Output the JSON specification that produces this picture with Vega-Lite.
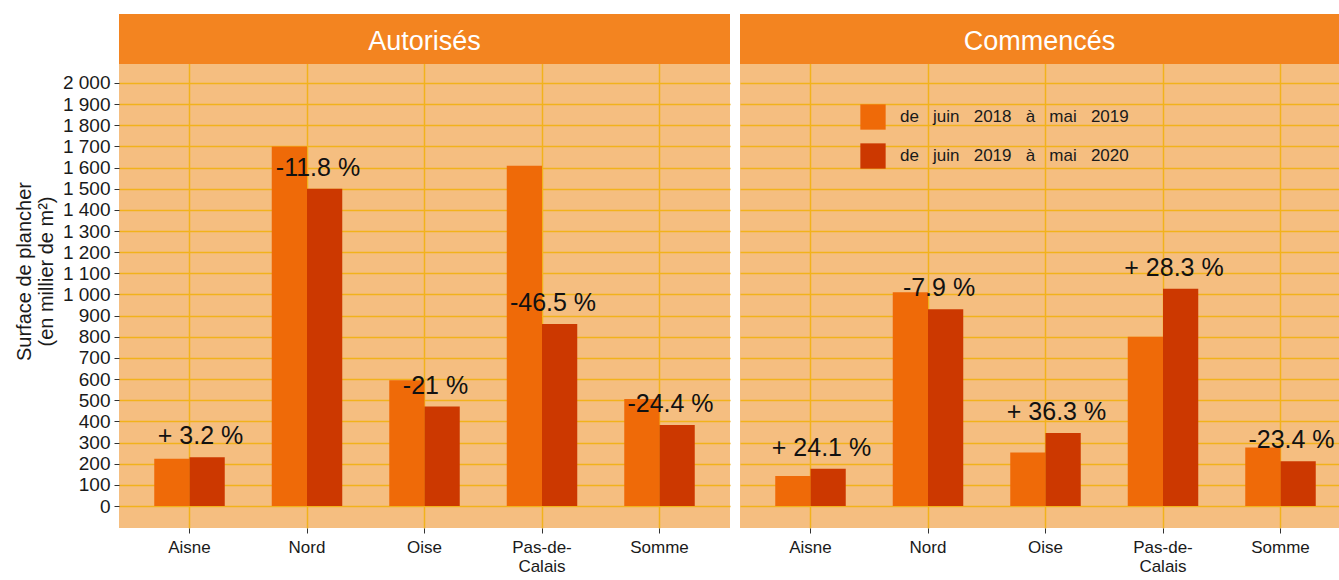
{
  "$schema": "https://vega.github.io/schema/vega-lite/v6.json",
  "background": "white",
  "padding": {"left": 14, "top": 14, "right": 0, "bottom": 0},
  "datasets": {
    "bars": [
      {"panel": "Autorisés", "dept": "Aisne", "periode": "de juin 2018 à mai 2019", "value": 223},
      {"panel": "Autorisés", "dept": "Aisne", "periode": "de juin 2019 à mai 2020", "value": 230, "label": "+ 3.2 %"},
      {"panel": "Autorisés", "dept": "Nord", "periode": "de juin 2018 à mai 2019", "value": 1700},
      {"panel": "Autorisés", "dept": "Nord", "periode": "de juin 2019 à mai 2020", "value": 1500, "label": "-11.8 %"},
      {"panel": "Autorisés", "dept": "Oise", "periode": "de juin 2018 à mai 2019", "value": 595},
      {"panel": "Autorisés", "dept": "Oise", "periode": "de juin 2019 à mai 2020", "value": 470, "label": "-21 %"},
      {"panel": "Autorisés", "dept": "Pas-de-Calais", "periode": "de juin 2018 à mai 2019", "value": 1608},
      {"panel": "Autorisés", "dept": "Pas-de-Calais", "periode": "de juin 2019 à mai 2020", "value": 860, "label": "-46.5 %"},
      {"panel": "Autorisés", "dept": "Somme", "periode": "de juin 2018 à mai 2019", "value": 506},
      {"panel": "Autorisés", "dept": "Somme", "periode": "de juin 2019 à mai 2020", "value": 383, "label": "-24.4 %"},
      {"panel": "Commencés", "dept": "Aisne", "periode": "de juin 2018 à mai 2019", "value": 142},
      {"panel": "Commencés", "dept": "Aisne", "periode": "de juin 2019 à mai 2020", "value": 176, "label": "+ 24.1 %"},
      {"panel": "Commencés", "dept": "Nord", "periode": "de juin 2018 à mai 2019", "value": 1010},
      {"panel": "Commencés", "dept": "Nord", "periode": "de juin 2019 à mai 2020", "value": 930, "label": "-7.9 %"},
      {"panel": "Commencés", "dept": "Oise", "periode": "de juin 2018 à mai 2019", "value": 253},
      {"panel": "Commencés", "dept": "Oise", "periode": "de juin 2019 à mai 2020", "value": 345, "label": "+ 36.3 %"},
      {"panel": "Commencés", "dept": "Pas-de-Calais", "periode": "de juin 2018 à mai 2019", "value": 800},
      {"panel": "Commencés", "dept": "Pas-de-Calais", "periode": "de juin 2019 à mai 2020", "value": 1027, "label": "+ 28.3 %"},
      {"panel": "Commencés", "dept": "Somme", "periode": "de juin 2018 à mai 2019", "value": 276},
      {"panel": "Commencés", "dept": "Somme", "periode": "de juin 2019 à mai 2020", "value": 212, "label": "-23.4 %"}
    ]
  },
  "config": {
    "font": "Liberation Sans",
    "view": {"fill": "#F5BE80", "stroke": null},
    "concat": {"spacing": 10},
    "axis": {
      "gridColor": "#F2B21C",
      "gridWidth": 1.5,
      "domain": false,
      "tickColor": "#333333",
      "tickSize": 5,
      "labelColor": "#1a1a1a",
      "labelFont": "Liberation Sans",
      "titleFont": "Liberation Sans",
      "titleFontWeight": "normal",
      "titleColor": "#1a1a1a"
    },
    "legend": {
      "orient": "none",
      "legendX": 741,
      "legendY": 90,
      "title": null,
      "symbolType": "square",
      "symbolSize": 640,
      "symbolStrokeWidth": 0,
      "symbolOpacity": 1,
      "labelFontSize": 17,
      "labelFont": "Liberation Sans",
      "labelColor": "#1a1a1a",
      "labelLimit": 0,
      "rowPadding": 13,
      "labelOffset": 14
    }
  },
  "hconcat": [
    {
      "width": 611,
      "height": 514,
      "layer": [
        {
          "data": {"name": "bars"},
          "transform": [{"filter": "datum.panel == 'Autorisés'"}],
          "mark": {"type": "bar"},
          "encoding": {
            "x": {
              "field": "dept", "type": "nominal",
              "scale": {"paddingInner": 0.4, "paddingOuter": 0.3},
              "axis": {
                "title": null, "labelAngle": 0, "labelFontSize": 17, "labelPadding": 6,
                "bandPosition": 0.5, "grid": true,
                "labelExpr": "datum.label == 'Pas-de-Calais' ? ['Pas-de-', 'Calais'] : datum.label"
              }
            },
            "xOffset": {"field": "periode", "type": "nominal"},
            "y": {
              "field": "value", "type": "quantitative",
              "scale": {"domain": [-104, 2326], "nice": false, "zero": false},
              "axis": {
                "title": ["Surface de plancher", "(en millier de m²)"],
                "titleFontSize": 20, "titlePadding": 6, "titleLineHeight": 22,
                "labelFontSize": 19, "labelPadding": 4, "labelOverlap": false,
                "values": [0, 100, 200, 300, 400, 500, 600, 700, 800, 900, 1000, 1100, 1200, 1300, 1400, 1500, 1600, 1700, 1800, 1900, 2000],
                "labelExpr": "replace(format(datum.value, ','), ',', ' ')"
              }
            },
            "color": {
              "field": "periode", "type": "nominal",
              "scale": {"range": ["#EF6A08", "#CC3800"]},
              "legend": {"labelExpr": "replace(datum.label, / /g, ' \u00a0\u00a0')"}
            }
          }
        },
        {
          "data": {"name": "bars"},
          "transform": [{"filter": "datum.panel == 'Autorisés' && isValid(datum.label)"}],
          "mark": {"type": "text", "fontSize": 25, "color": "#111111", "dy": -21, "dx": 11, "baseline": "middle"},
          "encoding": {
            "x": {"field": "dept", "type": "nominal"},
            "y": {
              "field": "value", "type": "quantitative",
              "axis": {
                "title": ["Surface de plancher", "(en millier de m²)"],
                "titleFontSize": 20, "titlePadding": 6, "titleLineHeight": 22,
                "labelFontSize": 19, "labelPadding": 4, "labelOverlap": false,
                "values": [0, 100, 200, 300, 400, 500, 600, 700, 800, 900, 1000, 1100, 1200, 1300, 1400, 1500, 1600, 1700, 1800, 1900, 2000],
                "labelExpr": "replace(format(datum.value, ','), ',', ' ')"
              }
            },
            "text": {"field": "label"}
          }
        },
        {
          "data": {"values": [{"t": "Autorisés"}]},
          "mark": {"type": "rect", "color": "#F38420"},
          "encoding": {
            "y": {
              "datum": 2090,
              "axis": {
                "title": ["Surface de plancher", "(en millier de m²)"],
                "titleFontSize": 20, "titlePadding": 6, "titleLineHeight": 22,
                "labelFontSize": 19, "labelPadding": 4, "labelOverlap": false,
                "values": [0, 100, 200, 300, 400, 500, 600, 700, 800, 900, 1000, 1100, 1200, 1300, 1400, 1500, 1600, 1700, 1800, 1900, 2000],
                "labelExpr": "replace(format(datum.value, ','), ',', ' ')"
              }
            },
            "y2": {"datum": 2326}
          }
        },
        {
          "data": {"values": [{"t": "Autorisés"}]},
          "mark": {"type": "text", "color": "white", "fontSize": 27, "baseline": "middle"},
          "encoding": {
            "y": {
              "datum": 2194,
              "axis": {
                "title": ["Surface de plancher", "(en millier de m²)"],
                "titleFontSize": 20, "titlePadding": 6, "titleLineHeight": 22,
                "labelFontSize": 19, "labelPadding": 4, "labelOverlap": false,
                "values": [0, 100, 200, 300, 400, 500, 600, 700, 800, 900, 1000, 1100, 1200, 1300, 1400, 1500, 1600, 1700, 1800, 1900, 2000],
                "labelExpr": "replace(format(datum.value, ','), ',', ' ')"
              }
            },
            "text": {"field": "t"}
          }
        }
      ]
    },
    {
      "width": 599,
      "height": 514,
      "layer": [
        {
          "data": {"name": "bars"},
          "transform": [{"filter": "datum.panel == 'Commencés'"}],
          "mark": {"type": "bar"},
          "encoding": {
            "x": {
              "field": "dept", "type": "nominal",
              "scale": {"paddingInner": 0.4, "paddingOuter": 0.3, "range": [0, 611]},
              "axis": {
                "title": null, "labelAngle": 0, "labelFontSize": 17, "labelPadding": 6,
                "bandPosition": 0.5, "grid": true,
                "labelExpr": "datum.label == 'Pas-de-Calais' ? ['Pas-de-', 'Calais'] : datum.label"
              }
            },
            "xOffset": {"field": "periode", "type": "nominal"},
            "y": {
              "field": "value", "type": "quantitative",
              "scale": {"domain": [-104, 2326], "nice": false, "zero": false},
              "axis": {
                "title": null, "labels": false, "ticks": false,
                "values": [0, 100, 200, 300, 400, 500, 600, 700, 800, 900, 1000, 1100, 1200, 1300, 1400, 1500, 1600, 1700, 1800, 1900, 2000]
              }
            },
            "color": {"field": "periode", "type": "nominal"}
          }
        },
        {
          "data": {"name": "bars"},
          "transform": [{"filter": "datum.panel == 'Commencés' && isValid(datum.label)"}],
          "mark": {"type": "text", "fontSize": 25, "color": "#111111", "dy": -21, "dx": 11, "baseline": "middle"},
          "encoding": {
            "x": {"field": "dept", "type": "nominal"},
            "y": {
              "field": "value", "type": "quantitative",
              "axis": {
                "title": null, "labels": false, "ticks": false,
                "values": [0, 100, 200, 300, 400, 500, 600, 700, 800, 900, 1000, 1100, 1200, 1300, 1400, 1500, 1600, 1700, 1800, 1900, 2000]
              }
            },
            "text": {"field": "label"}
          }
        },
        {
          "data": {"values": [{"t": "Commencés"}]},
          "mark": {"type": "rect", "color": "#F38420"},
          "encoding": {
            "y": {
              "datum": 2090,
              "axis": {
                "title": null, "labels": false, "ticks": false,
                "values": [0, 100, 200, 300, 400, 500, 600, 700, 800, 900, 1000, 1100, 1200, 1300, 1400, 1500, 1600, 1700, 1800, 1900, 2000]
              }
            },
            "y2": {"datum": 2326}
          }
        },
        {
          "data": {"values": [{"t": "Commencés"}]},
          "mark": {"type": "text", "color": "white", "fontSize": 27, "baseline": "middle"},
          "encoding": {
            "y": {
              "datum": 2194,
              "axis": {
                "title": null, "labels": false, "ticks": false,
                "values": [0, 100, 200, 300, 400, 500, 600, 700, 800, 900, 1000, 1100, 1200, 1300, 1400, 1500, 1600, 1700, 1800, 1900, 2000]
              }
            },
            "text": {"field": "t"}
          }
        }
      ]
    }
  ]
}
